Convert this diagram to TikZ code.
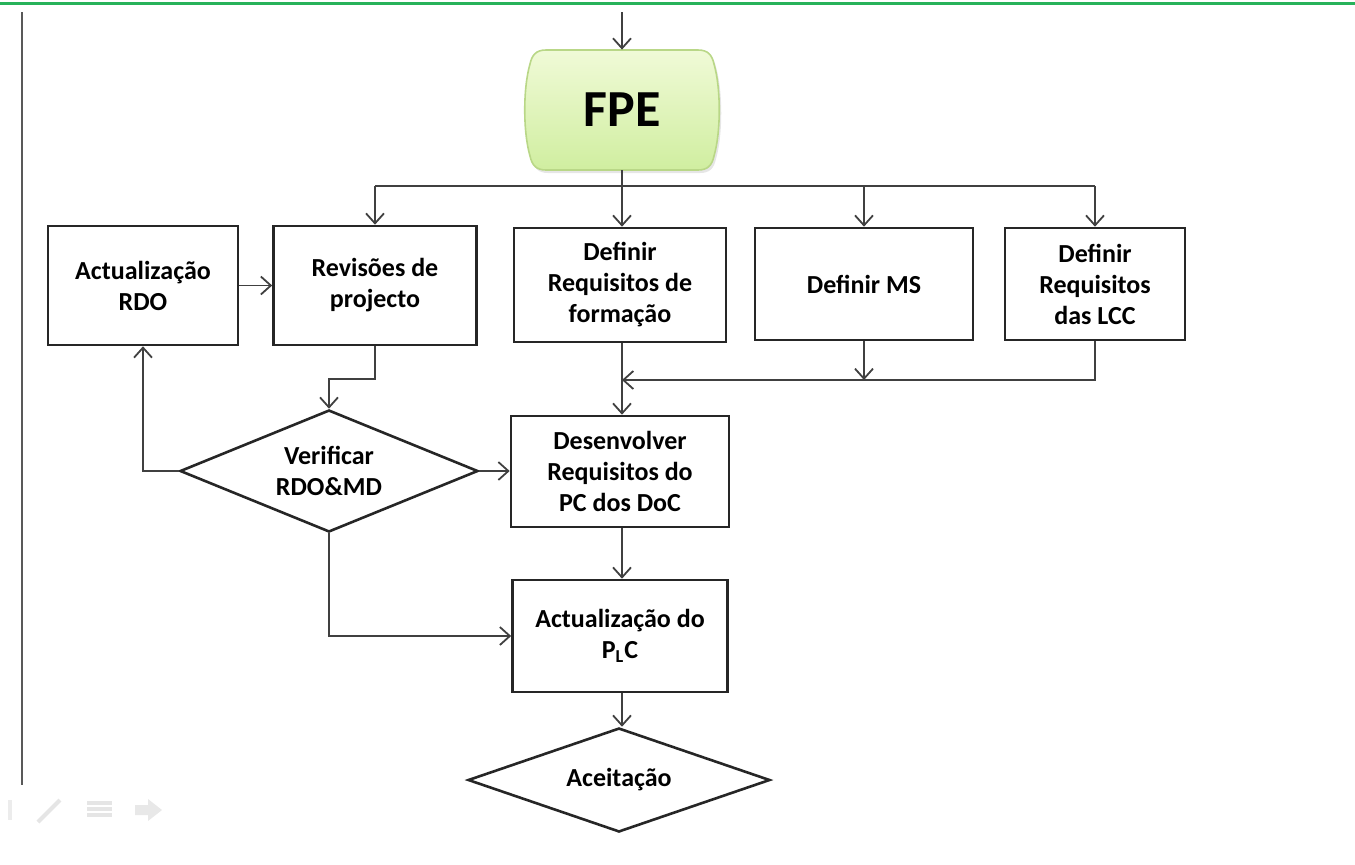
\documentclass[tikz,border=0pt]{standalone}
\usepackage{fontspec}
\setmainfont{Carlito}
\usetikzlibrary{positioning,shapes.geometric,arrows.meta,shadows}

\definecolor{verdelinha}{RGB}{40,178,90}
\definecolor{verdeclaro}{RGB}{240,250,215}
\definecolor{verdemedio}{RGB}{208,238,160}
\definecolor{bordaverde}{RGB}{185,215,135}

\begin{document}
\begin{tikzpicture}[x=0.5pt, y=-0.5pt,
    caixa/.style={rectangle, draw=black!85, line width=1.3pt, align=center,
        font=\bfseries\fontsize{13}{15.5}\selectfont},
    decisao/.style={diamond, draw=black!85, line width=1.3pt, align=center,
        inner sep=0pt, font=\bfseries\fontsize{13}{15.5}\selectfont},
    seta/.style={draw=black!75, line width=0.9pt, -{Straight Barb[length=5pt,width=9pt]}},
    linha/.style={draw=black!75, line width=0.9pt}]
    \useasboundingbox (0,0) rectangle (1355,864);

    % Moldura do diapositivo
    \fill[verdelinha] (0,1.5) rectangle (1355,4.5);
    \draw[black!65, line width=1pt] (22,12) -- (22,785);
    \fill[gray!15] (8,800) rectangle (12,820);
    \draw[gray!20, line width=2pt] (38,822) -- (60,800);
    \foreach \y in {803,809,815} \draw[gray!20, line width=2pt] (87,\y) -- (112,\y);
    \fill[gray!18] (135,805) -- (148,805) -- (148,799) -- (162,810) -- (148,821) -- (148,815) -- (135,815) -- cycle;

    % Forma do FPE
    \draw[bordaverde, line width=0.8pt, top color=verdeclaro, bottom color=verdemedio,
        drop shadow={opacity=0.2, shadow xshift=1pt, shadow yshift=-1.5pt}]
        (546,50) -- (698,50) .. controls (708,50) and (712,55) .. (714,64)
        .. controls (721,88) and (721,132) .. (714,156)
        .. controls (712,165) and (708,170) .. (698,170) -- (546,170)
        .. controls (536,170) and (532,165) .. (530,156)
        .. controls (523,132) and (523,88) .. (530,64)
        .. controls (532,55) and (536,50) .. cycle;

    % Definição dos nós
    \node[minimum width=97pt, minimum height=60pt,
        font=\bfseries\fontsize{26}{30}\selectfont] (FPE) at (622,110) {FPE};
    \node[caixa, minimum width=95pt, minimum height=59.5pt] (RDO) at (143,285.5) {Actualização\\RDO};
    \node[caixa, minimum width=101.5pt, minimum height=59.5pt] (REV) at (375,285.5) {Revisões de\\projecto};
    \node[caixa, minimum width=106pt, minimum height=57pt] (FORM) at (620,285) {Definir\\Requisitos de\\formação};
    \node[caixa, minimum width=109pt, minimum height=56pt] (MS) at (864,284) {Definir MS};
    \node[caixa, minimum width=90pt, minimum height=56pt] (LCC) at (1095,284) {Definir\\Requisitos\\das LCC};
    \node[decisao, aspect=2.44, minimum width=149pt, minimum height=61pt] (VER) at (329,471) {Verificar\\RDO\&MD};
    \node[caixa, minimum width=109pt, minimum height=55.5pt] (DES) at (620,471.5) {Desenvolver\\Requisitos do\\PC dos DoC};
    \node[caixa, minimum width=107.5pt, minimum height=56pt] (PLC) at (620,636) {Actualização do\\P\textsubscript{L}C};
    \node[decisao, aspect=2.9, minimum width=151pt, minimum height=52pt] (ACE) at (619,780) {Aceitação};

    \coordinate (entrada) at (622,12);
    \coordinate (barra) at (622,186);
    \coordinate (barra2) at (622,380);

    % Definição das ligações
    \draw[seta] (entrada) -- (FPE.north);
    \draw[linha] (FPE.south) -- (barra);
    \draw[linha] (barra -| REV.north) -- (barra -| LCC.north);
    \foreach \n in {REV,MS,LCC}
        \draw[seta] (barra -| \n.north) -- (\n.north);
    \draw[seta] (barra) -- (barra |- FORM.north);
    \draw[seta] (RDO) -- (REV);
    \draw[seta] (REV.south) -- ++(0,33) -| (VER.north);
    \draw[seta] (VER.west) -| (RDO.south);
    \draw[seta] (VER.east) -- (VER.east -| DES.west);
    \draw[seta] (barra |- FORM.south) -- (barra |- DES.north);
    \draw[seta] (LCC.south) |- (barra2);
    \draw[seta] (MS.south) -- (MS.south |- barra2);
    \draw[seta] (barra |- DES.south) -- (barra |- PLC.north);
    \draw[seta] (VER.south) |- (PLC.west);
    \draw[seta] (barra |- PLC.south) -- (barra |- ACE.north);
\end{tikzpicture}
\end{document}
